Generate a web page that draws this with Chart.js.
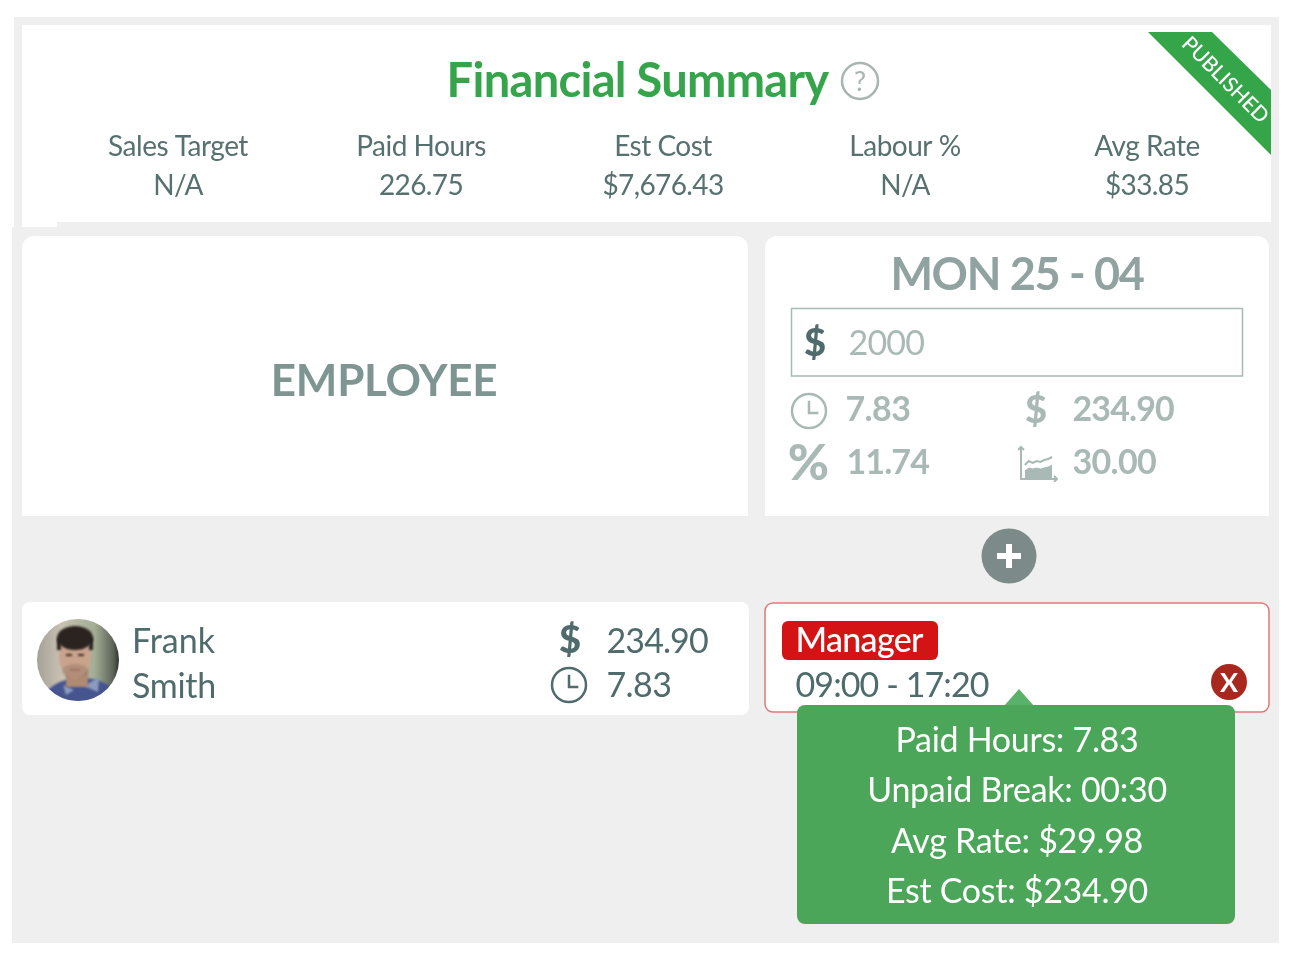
<!DOCTYPE html>
<html>
<head>
<meta charset="utf-8">
<title>Financial Summary</title>
<script src="https://cdn.jsdelivr.net/npm/chart.js@4"></script>
<style>
    html, body { margin: 0; padding: 0; background: #fff; }
    #wrap { position: relative; width: 1294px; height: 958px; overflow: hidden; filter: blur(0.45px); }
    #board { position: absolute; left: 0; top: 0; }
    #icon-box { position: absolute; left: 1018px; top: 444px; width: 40px; height: 38px; }
</style>
</head>
<body>
<div id="wrap">
    <canvas id="board" width="1294" height="958"></canvas>
    <div id="icon-box"><canvas id="rate-icon" width="40" height="38"></canvas></div>
</div>
<script>
// Данные сводки
const summaryLabels = ['Sales Target', 'Paid Hours', 'Est Cost', 'Labour %', 'Avg Rate'];
const summaryValues = ['N/A', '226.75', '$7,676.43', 'N/A', '$33.85'];
const summaryTitle = 'Financial Summary';
const ribbonText = 'PUBLISHED';

// Данные дня
const columnTitle = 'EMPLOYEE';
const dayTitle = 'MON 25 - 04';
const dayTarget = '2000';
const dayHours = '7.83';
const dayCost = '234.90';
const dayLabour = '11.74';
const dayRate = '30.00';

// Сотрудник и смена
const employeeNames = ['Frank', 'Smith'];
const employeeCost = '234.90';
const employeeHours = '7.83';
const shiftRole = 'Manager';
const shiftTime = '09:00 - 17:20';
const tooltipLines = ['Paid Hours: 7.83', 'Unpaid Break: 00:30', 'Avg Rate: $29.98', 'Est Cost: $234.90'];

// Маленькая иконка графика
const iconSteps = [0, 1, 2, 3, 4, 5, 6, 7, 8, 9];
const iconUpper = [null, 7, 9, 8, 9, 8.5, 9.5, 10, 11, null];
const iconLower = [null, 4, 5.5, 5, 5.5, 5, 5.5, 6, 7, null];

const DARK = '#56716f';
const TEAL = '#4f6b6c';
const SOFT = '#a9b9b5';
const GREEN = '#35a44a';

function text(ctx, str, x, y, font, color, align = 'center', spacing = 0) {
    ctx.font = font;
    ctx.fillStyle = color;
    ctx.textAlign = align;
    ctx.textBaseline = 'alphabetic';
    ctx.letterSpacing = spacing + 'px';
    ctx.fillText(str, x, y);
    ctx.letterSpacing = '0px';
}

function box(ctx, x0, y0, x1, y1, radius, fill, stroke, lineWidth = 1.5) {
    ctx.beginPath();
    ctx.roundRect(x0, y0, x1 - x0, y1 - y0, radius);
    if (fill) { ctx.fillStyle = fill; ctx.fill(); }
    if (stroke) { ctx.strokeStyle = stroke; ctx.lineWidth = lineWidth; ctx.stroke(); }
}

function clock(ctx, cx, cy, r, color) {
    ctx.strokeStyle = color;
    ctx.lineWidth = 2.5;
    ctx.beginPath();
    ctx.arc(cx, cy, r, 0, Math.PI * 2);
    ctx.moveTo(cx, cy - r * 0.6);
    ctx.lineTo(cx, cy + 2);
    ctx.lineTo(cx + r * 0.55, cy + 2);
    ctx.stroke();
}

function avatar(ctx, cx, cy, r) {
    ctx.save();
    ctx.beginPath();
    ctx.arc(cx, cy, r, 0, Math.PI * 2);
    ctx.clip();
    const bg = ctx.createLinearGradient(cx - r, cy, cx + r, cy);
    bg.addColorStop(0, '#a5a198');
    bg.addColorStop(0.3, '#c9c1b2');
    bg.addColorStop(0.7, '#a3ae95');
    bg.addColorStop(0.93, '#5b6358');
    bg.addColorStop(1, '#2e332f');
    ctx.fillStyle = bg;
    ctx.fillRect(cx - r, cy - r, r * 2, r * 2);
    ctx.filter = 'blur(1px)';
    // плечи и рубашка
    ctx.fillStyle = '#46548f';
    ctx.beginPath();
    ctx.ellipse(cx + 3, cy + 42, 38, 24, 0, 0, Math.PI * 2);
    ctx.fill();
    ctx.fillStyle = '#8c9cc0';
    ctx.beginPath();
    ctx.moveTo(cx + 6, cy + 26);
    ctx.lineTo(cx + 21, cy + 17);
    ctx.lineTo(cx + 20, cy + 32);
    ctx.closePath();
    ctx.fill();
    ctx.beginPath();
    ctx.moveTo(cx - 15, cy + 25);
    ctx.lineTo(cx - 4, cy + 30);
    ctx.lineTo(cx - 12, cy + 35);
    ctx.closePath();
    ctx.fill();
    // шея и лицо
    ctx.fillStyle = '#b08a72';
    ctx.fillRect(cx - 12, cy + 8, 22, 19);
    ctx.fillStyle = '#c9a38c';
    ctx.beginPath();
    ctx.ellipse(cx - 3, cy - 3, 16, 21, 0, 0, Math.PI * 2);
    ctx.fill();
    // щетина
    ctx.fillStyle = 'rgba(120,90,75,0.28)';
    ctx.beginPath();
    ctx.ellipse(cx - 3, cy + 11, 13, 7, 0, 0, Math.PI * 2);
    ctx.fill();
    // волосы
    ctx.fillStyle = '#2b2320';
    ctx.beginPath();
    ctx.ellipse(cx - 3, cy - 22, 18, 12, 0, 0, Math.PI * 2);
    ctx.fill();
    ctx.fillRect(cx - 21, cy - 22, 4, 12);
    ctx.fillRect(cx + 11, cy - 22, 4, 12);
    // глаза и рот
    ctx.fillStyle = '#3a2c26';
    ctx.fillRect(cx - 12, cy - 6, 6, 2);
    ctx.fillRect(cx + 0, cy - 6, 6, 2);
    ctx.fillStyle = '#9a6a58';
    ctx.fillRect(cx - 8, cy + 9, 10, 1.5);
    ctx.restore();
}

// Плагин рисует карточки расписания на полотне диаграммы
const boardPlugin = {
    id: 'board',
    beforeDraw(chart) {
        const ctx = chart.ctx;
        ctx.save();

        // Серый фон
        ctx.fillStyle = '#efefef';
        ctx.fillRect(14, 17, 1265, 210);
        ctx.fillRect(12, 227, 1267, 716);

        // Шапка
        ctx.fillStyle = '#ffffff';
        ctx.fillRect(22, 25, 1249, 197);
        ctx.fillRect(22, 222, 35, 5);

        text(ctx, summaryTitle, 637.5, 97, 'bold 47px Lato', GREEN, 'center', -0.7);
        ctx.strokeStyle = '#a9b5b3';
        ctx.lineWidth = 2.5;
        ctx.beginPath();
        ctx.arc(860, 81, 18, 0, Math.PI * 2);
        ctx.stroke();
        text(ctx, '?', 860, 91, '27px Lato', '#a9b5b3');

        const summaryX = [178, 421, 663, 905, 1147];
        summaryLabels.forEach((label, i) => {
            text(ctx, label, summaryX[i], 156, '28px Lato', DARK, 'center', -0.5);
            text(ctx, summaryValues[i], summaryX[i], 195, '28px Lato', DARK, 'center', -0.6);
        });

        // Лента
        ctx.fillStyle = '#34a549';
        ctx.beginPath();
        ctx.moveTo(1148, 32);
        ctx.lineTo(1212, 32);
        ctx.lineTo(1271, 90);
        ctx.lineTo(1271, 155);
        ctx.closePath();
        ctx.fill();
        ctx.save();
        ctx.translate(1226, 79);
        ctx.rotate(Math.PI / 4);
        text(ctx, ribbonText, 0, 8, '500 21px Lato', '#ffffff', 'center', -0.2);
        ctx.restore();

        // Колонки
        box(ctx, 22, 236, 748, 516, [12, 12, 0, 0], '#ffffff');
        box(ctx, 765, 236, 1269, 516, [12, 12, 0, 0], '#ffffff');
        text(ctx, columnTitle, 384, 396, 'bold 44px Lato', '#7f9592', 'center', -0.3);
        text(ctx, dayTitle, 1017, 290, 'bold 45px Lato', '#90a3a0', 'center', -1.3);

        box(ctx, 791.5, 308.5, 1242.5, 376, 0, '#ffffff', '#a9b9b5');
        text(ctx, '$', 815, 356, '900 38px Lato', TEAL);
        text(ctx, dayTarget, 848.5, 355, '34px Lato', SOFT, 'left', -0.8);

        clock(ctx, 809, 411, 17, SOFT);
        text(ctx, dayHours, 845.5, 421, 'bold 34px Lato', SOFT, 'left', -0.6);
        text(ctx, '$', 1036, 423, '900 38px Lato', SOFT);
        text(ctx, dayCost, 1072.5, 421, 'bold 34px Lato', SOFT, 'left', -0.9);
        text(ctx, '%', 808.5, 480, '900 50px Lato', SOFT);
        text(ctx, dayLabour, 846.5, 474, 'bold 34px Lato', SOFT, 'left', -0.9);
        text(ctx, dayRate, 1072.5, 474, 'bold 34px Lato', SOFT, 'left', -0.7);

        // Кнопка добавления
        ctx.fillStyle = '#7c8b8a';
        ctx.beginPath();
        ctx.arc(1009, 556, 27.5, 0, Math.PI * 2);
        ctx.fill();
        ctx.fillStyle = '#ffffff';
        ctx.fillRect(997, 553, 24, 6);
        ctx.fillRect(1006, 544, 6, 24);

        // Строка сотрудника
        box(ctx, 22, 602, 749, 715, 8, '#ffffff');
        avatar(ctx, 78, 660, 41);
        text(ctx, employeeNames[0], 132, 653, '34px Lato', TEAL, 'left');
        text(ctx, employeeNames[1], 132, 698, '34px Lato', TEAL, 'left', -0.3);
        text(ctx, '$', 570, 653, '900 38px Lato', TEAL);
        text(ctx, employeeCost, 606.5, 653, '34px Lato', TEAL, 'left', -0.9);
        clock(ctx, 569, 685, 17, TEAL);
        text(ctx, employeeHours, 606.5, 697, '34px Lato', TEAL, 'left', -0.6);

        // Карточка смены
        box(ctx, 765, 603, 1269, 712, 8, '#ffffff', '#e07a7a');
        box(ctx, 782, 621, 938, 660, 6, '#d41414');
        text(ctx, shiftRole, 795.5, 652, '500 34px Lato', '#ffffff', 'left', -0.7);
        text(ctx, shiftTime, 795.5, 697, '34px Lato', TEAL, 'left', -0.9);
        ctx.fillStyle = '#a82820';
        ctx.beginPath();
        ctx.arc(1229, 682, 18, 0, Math.PI * 2);
        ctx.fill();
        text(ctx, 'X', 1229, 692, 'bold 27px Lato', '#ffffff');

        // Подсказка
        ctx.fillStyle = '#5ab26a';
        ctx.beginPath();
        ctx.moveTo(1019, 689);
        ctx.lineTo(1034, 706);
        ctx.lineTo(1004, 706);
        ctx.closePath();
        ctx.fill();
        box(ctx, 797, 705, 1235, 924, 8, '#4ba659');
        const tooltipY = [752, 802, 853, 903];
        tooltipLines.forEach((line, i) => {
            text(ctx, line, 1017, tooltipY[i], '34px Lato', '#ffffff', 'center', -0.3);
        });

        ctx.restore();
    }
};

new Chart(document.getElementById('board').getContext('2d'), {
    type: 'scatter',
    data: { datasets: [] },
    options: {
        responsive: false,
        animation: false,
        layout: { padding: 0 },
        plugins: { legend: { display: false }, tooltip: { enabled: false } },
        scales: { x: { display: false }, y: { display: false } }
    },
    plugins: [boardPlugin]
});

// Иконка ставки: маленький график с двумя областями
const arrowPlugin = {
    id: 'arrows',
    afterDraw(chart) {
        const ctx = chart.ctx;
        const { left, bottom, right, top } = chart.chartArea;
        ctx.save();
        ctx.strokeStyle = SOFT;
        ctx.lineWidth = 2;
        ctx.beginPath();
        ctx.moveTo(left, top - 4);
        ctx.lineTo(left, bottom);
        ctx.lineTo(right + 1, bottom);
        ctx.moveTo(left - 3, top - 1);
        ctx.lineTo(left, top - 4);
        ctx.lineTo(left + 3, top - 1);
        ctx.moveTo(right - 2, bottom - 3);
        ctx.lineTo(right + 1, bottom);
        ctx.lineTo(right - 2, bottom + 3);
        ctx.stroke();
        ctx.restore();
    }
};

new Chart(document.getElementById('rate-icon').getContext('2d'), {
    type: 'line',
    data: {
        labels: iconSteps,
        datasets: [
            { data: iconLower, borderColor: SOFT, backgroundColor: SOFT, borderWidth: 1, fill: 'origin', pointRadius: 0 },
            { data: iconUpper, borderColor: SOFT, borderWidth: 2, fill: false, pointRadius: 0 }
        ]
    },
    options: {
        responsive: false,
        animation: false,
        layout: { padding: { left: 3, right: 2, top: 7, bottom: 3 } },
        plugins: { legend: { display: false }, tooltip: { enabled: false } },
        scales: {
            x: { display: false },
            y: { display: false, min: 0, max: 14 }
        }
    },
    plugins: [arrowPlugin]
});
</script>
</body>
</html>
